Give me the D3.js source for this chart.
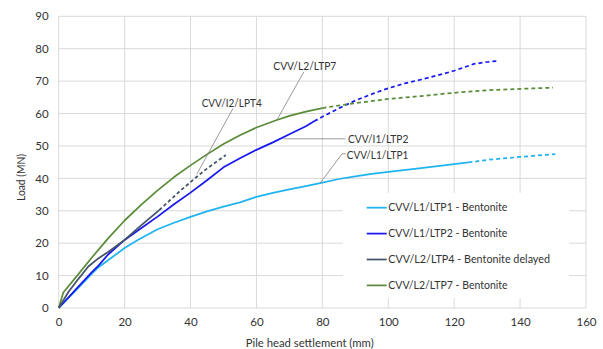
<!DOCTYPE html>
<html><head><meta charset="utf-8">
<script src="https://cdn.jsdelivr.net/npm/d3@7"></script>
<style>body{margin:0;background:#fff}svg{display:block}text{font-family:Lato,"Open Sans",sans-serif;fill:#333}</style>
</head><body>
<svg id="c" width="603" height="349"></svg>
<script>
const xTicks = [0,20,40,60,80,100,120,140,160];
const yTicks = [0,10,20,30,40,50,60,70,80,90];
const xTitle = "Pile head settlement (mm)";
const yTitle = "Load (MN)";

const ltp1Solid = [[0,0],[5,5.2],[10,10.5],[12,12.5],[16,15.5],[20,18.5],[24,21],[30,24.3],[35,26.3],[40,28.1],[45,29.8],[50,31.3],[55,32.6],[60,34.3],[65,35.5],[70,36.6],[75,37.6],[79.3,38.5],[85,39.8],[90,40.6],[95,41.4],[100,42],[108,42.9],[115,43.8],[120,44.4],[124.3,44.9]];
const ltp1Dash = [[124.3,44.9],[130,45.7],[140,46.6],[150.7,47.5]];
const ltp2Solid = [[0,0],[5,5.5],[10,11],[12,13],[15,16.5],[20,21],[25,24.6],[30,28.2],[35,32],[40,35.6],[45,39.4],[50,43.4],[55,46.2],[60,48.8],[65,51.1],[70,53.6],[75,56.1],[77.5,57.6]];
const ltp2Dash = [[77.5,57.6],[80,59],[85,61.6],[90,64],[95,66],[100,67.8],[105,69.3],[110,70.5],[115,71.8],[120,73.2],[126,75.3],[130,75.9],[133.7,76.3]];
const ltp4Solid = [[0,0],[3,5],[6,9],[9,12.8],[12,15.3],[15,17.3],[20,21],[25,25.5],[30.5,30.2]];
const ltp4Dash = [[30.5,30.2],[36.7,36],[41.9,40.5],[45,43],[50.7,47.2]];
const ltp7Solid = [[0,0],[1.4,4.8],[5,9.2],[10,15.5],[15,21.5],[20,27],[25,31.8],[30,36.3],[35,40.4],[40,44],[45,47.4],[50,50.6],[55,53.3],[60,55.7],[66.2,58],[70,59.3],[75,60.6],[80,61.7]];
const ltp7Dash = [[80,61.7],[90,63.2],[100,64.5],[110,65.4],[120,66.4],[130,67.2],[140,67.6],[150,68]];

const seriesNames = ["CVV/L1/LTP1 - Bentonite","CVV/L1/LTP2 - Bentonite","CVV/L2/LTP4 - Bentonite delayed","CVV/L2/LTP7 - Bentonite"];
const seriesColors = ["#1fb4f0","#1818f0","#44546a","#5b8c3a"];
const annotLabels = ["CVV/L2/LTP7","CVV/I2/LPT4","CVV/I1/LTP2","CVV/L1/LTP1"];

const svg = d3.select("#c");
const x = d3.scaleLinear().domain([0,160]).range([58.7,586]);
const y = d3.scaleLinear().domain([0,90]).range([308,16.3]);

// gridlines
svg.append("g").selectAll("line").data(yTicks).join("line")
  .attr("x1",x(0)).attr("x2",x(160)).attr("y1",d=>y(d)).attr("y2",d=>y(d))
  .attr("stroke","#d9d9d9").attr("stroke-width",1);
svg.append("g").selectAll("line").data(xTicks).join("line")
  .attr("y1",y(0)).attr("y2",y(90)).attr("x1",d=>x(d)).attr("x2",d=>x(d))
  .attr("stroke","#d9d9d9").attr("stroke-width",1);

// axes
const xa = svg.append("g").attr("transform",`translate(0,${y(0)})`)
  .call(d3.axisBottom(x).tickValues(xTicks).tickSize(0).tickPadding(10));
xa.select(".domain").remove();
const ya = svg.append("g").attr("transform",`translate(${x(0)},0)`)
  .call(d3.axisLeft(y).tickValues(yTicks).tickSize(0).tickPadding(10));
ya.select(".domain").remove();
svg.selectAll(".tick text").attr("font-size",11.5).attr("fill","#404040").attr("font-family","Lato,'Open Sans',sans-serif");

svg.append("text").attr("x",245.7).attr("y",346.5).attr("font-size",11).attr("textLength",128).attr("lengthAdjust","spacingAndGlyphs").text(xTitle);
svg.append("text").attr("transform","translate(25,201) rotate(-90)").attr("font-size",11).attr("textLength",47).attr("lengthAdjust","spacingAndGlyphs").text(yTitle);

// legend background
svg.append("rect").attr("x",343).attr("y",193).attr("width",226).attr("height",105).attr("fill","#fff");

const line = d3.line().x(d=>x(d[0])).y(d=>y(d[1]));
const solids = [ltp1Solid,ltp2Solid,ltp4Solid,ltp7Solid];
const dashes = [ltp1Dash,ltp2Dash,ltp4Dash,ltp7Dash];
const dashPat = ["4,3","4,3","3.5,2.5","4,3"];
[0,1,3,2].forEach(i=>{
  svg.append("path").attr("d",line(solids[i])).attr("fill","none").attr("stroke",seriesColors[i]).attr("stroke-width",1.75).attr("stroke-linejoin","round");
  svg.append("path").attr("d",line(dashes[i])).attr("fill","none").attr("stroke",seriesColors[i]).attr("stroke-width",1.75).attr("stroke-dasharray",dashPat[i]);
});

// leader lines (data coords)
const leaders = [
  [[66.2,58],[74.4,72.9]],
  [[41.9,41.3],[52.9,61.6]],
  [[68.2,52.2],[87,52.2]],
  [[79.3,38.5],[86,47.6],[87.1,47.6]]
];
leaders.forEach(l=>svg.append("path").attr("d",line(l)).attr("fill","none").attr("stroke","#808080").attr("stroke-width",0.8));
// label placement [left px, baseline px, width px]
const labelBox = [[273.3,69.5,63],[201.7,106.5,60],[348,142.5,60.3],[346.7,159.3,61.6]];
annotLabels.forEach((t,i)=>svg.append("text").attr("x",labelBox[i][0]).attr("y",labelBox[i][1]).attr("font-size",10.8)
  .attr("textLength",labelBox[i][2]).attr("lengthAdjust","spacingAndGlyphs").text(t));

// legend entries
const legendWidths = [119,119,161.7,119.3];
seriesNames.forEach((n,i)=>{
  const yy = 207.7 + i*25.9;
  svg.append("line").attr("x1",366.7).attr("x2",386.7).attr("y1",yy).attr("y2",yy).attr("stroke",seriesColors[i]).attr("stroke-width",1.75);
  svg.append("text").attr("x",388.3).attr("y",yy+3.6).attr("font-size",11.5).attr("textLength",legendWidths[i]).attr("lengthAdjust","spacingAndGlyphs").text(n);
});
</script>
</body></html>
